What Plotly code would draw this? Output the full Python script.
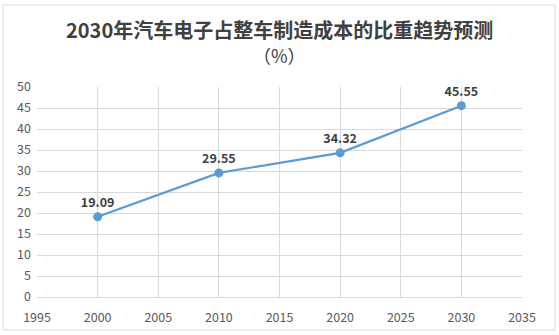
import plotly.graph_objects as go

years = [2000, 2010, 2020, 2030]
share = [19.09, 29.55, 34.32, 45.55]
x_ticks = [1995, 2000, 2005, 2010, 2015, 2020, 2025, 2030, 2035]
y_ticks = [0, 5, 10, 15, 20, 25, 30, 35, 40, 45, 50]

FONT = "Noto Sans CJK SC, Open Sans, sans-serif"

fig = go.Figure()
fig.add_trace(go.Scatter(
    x=years, y=share,
    mode="lines+markers+text",
    line=dict(color="#5b9bd5", width=2.2),
    marker=dict(color="#5b9bd5", size=9),
    text=[f"{v:.2f}" for v in share],
    textposition="top center",
    textfont=dict(family=FONT, size=12.5, color="#404040", weight="bold"),
    cliponaxis=False,
    hoverinfo="skip",
))

fig.update_layout(
    width=559, height=335,
    margin=dict(l=37, r=37, t=87, b=38, autoexpand=False),
    paper_bgcolor="white", plot_bgcolor="white",
    showlegend=False,
    font=dict(family=FONT, color="#595959"),
    xaxis=dict(range=[1995, 2035], tickvals=x_ticks, showgrid=True,
               gridcolor="#d9d9d9", gridwidth=1, zeroline=False,
               showline=True, linecolor="#d9d9d9", automargin=False,
               tickfont=dict(size=12.5, color="#595959"), ticks="",
               ticklabelstandoff=9),
    yaxis=dict(range=[0, 50], tickvals=y_ticks, showgrid=True,
               gridcolor="#d9d9d9", gridwidth=1, zeroline=False,
               automargin=False,
               tickfont=dict(size=12.5, color="#595959"), ticks="",
               ticklabelstandoff=5),
    annotations=[
        dict(text="<b>2030年汽车电子占整车制造成本的比重趋势预测</b>",
             xref="paper", yref="paper", x=0.5, y=(297 - 29) / 210,
             xanchor="center", yanchor="middle", showarrow=False,
             font=dict(family=FONT, size=20, color="#404040")),
        dict(text="（%）",
             xref="paper", yref="paper", x=0.5, y=(297 - 55) / 210,
             xanchor="center", yanchor="middle", showarrow=False,
             font=dict(family=FONT, size=18, color="#404040")),
    ],
    shapes=[dict(type="rect", xref="paper", yref="paper",
                 x0=(3 - 37) / 485, x1=(555 - 37) / 485,
                 y0=(297 - 330) / 210, y1=(297 - 5) / 210,
                 line=dict(color="#d9d9d9", width=1), layer="below")],
)

fig.write_html("out.html")
